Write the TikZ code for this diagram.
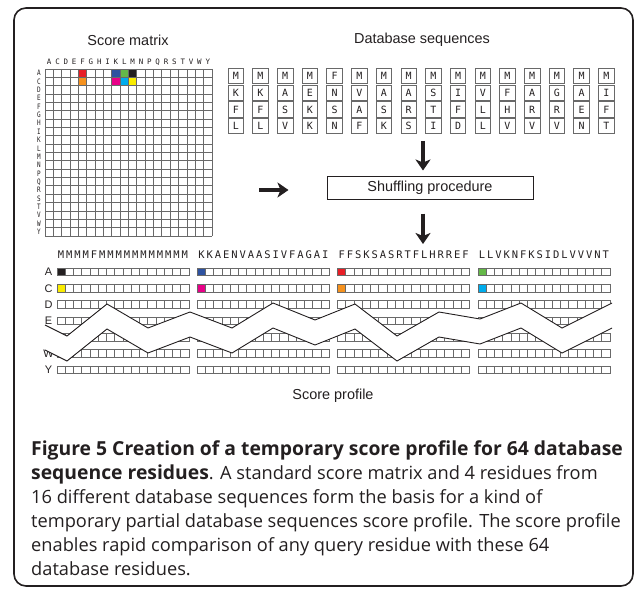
\documentclass[tikz,border=0pt]{standalone}
\usepackage{fontspec}
\setmainfont{Liberation Sans}
\newfontfamily\monofont{DejaVu Sans Mono}
\newfontfamily\capfont{Open Sans}
\usetikzlibrary{positioning,calc,arrows.meta}
% colours of the highlighted scores
\definecolor{scRed}{RGB}{232,30,38}
\definecolor{scOrange}{RGB}{246,146,30}
\definecolor{scBlue}{RGB}{46,82,160}
\definecolor{scMagenta}{RGB}{232,0,136}
\definecolor{scGreen}{RGB}{100,184,72}
\definecolor{scCyan}{RGB}{0,172,236}
\definecolor{scBlack}{RGB}{35,31,32}
\definecolor{scYellow}{RGB}{250,236,0}
\definecolor{lineGray}{RGB}{105,105,105}
\definecolor{textGray}{RGB}{35,31,32}
\newcommand{\capbold}[1]{{\fontsize{19.4}{24}\selectfont\bfseries #1}}
\tikzset{
  headline/.style={font=\fontsize{14.5}{16}\selectfont, text=textGray, inner sep=0pt},
  tinylabel/.style={font=\monofont\fontsize{7.5}{7.5}\selectfont, text=textGray, inner sep=0pt},
  gridline/.style={draw=lineGray, line width=0.9bp},
  dbletter/.style={draw=lineGray, line width=0.8bp, minimum width=15.5bp, minimum height=15.5bp,
    inner sep=0pt, font=\monofont\fontsize{10}{10}\selectfont, text=textGray},
  seqletter/.style={font=\monofont\fontsize{10.5}{10.5}\selectfont, text=textGray, inner sep=0pt},
  rowlabel/.style={font=\fontsize{11}{11}\selectfont, text=textGray, inner sep=0pt},
  profcell/.style={draw=lineGray, line width=0.8bp},
  thickarrow/.style={-{Stealth[length=11bp,width=15bp,inset=3bp]}, line width=4bp, textGray},
  capline/.style={font=\capfont\fontsize{18.3}{24}\selectfont, text=textGray, inner sep=0pt, anchor=base west},
}
\begin{document}
\begin{tikzpicture}[x=1bp,y=-1bp]
    \useasboundingbox (0,0) rectangle (637,589);
    % outer frame
    \draw[rounded corners=12bp, line width=1.6bp, textGray] (14,8) rectangle (633,586);

    % Score matrix: highlighted cells first, then the grid
    \node[headline] (smtitle) at (128,40) {Score matrix};
    \foreach \c/\r/\col in {4/0/scRed, 8/0/scBlue, 9/0/scGreen, 10/0/scBlack,
                            4/1/scOrange, 8/1/scMagenta, 9/1/scCyan, 10/1/scYellow}{
        \fill[\col] ({45+\c*8.35},{69+\r*8.35}) rectangle ++(8.35,8.35);
    }
    \foreach \i in {0,...,20}{
        \draw[gridline] ({45+\i*8.35},69) -- ++(0,167);
        \draw[gridline] (45,{69+\i*8.35}) -- ++(167,0);
    }
    \foreach \aa[count=\k from 0] in {A,C,D,E,F,G,H,I,K,L,M,N,P,Q,R,S,T,V,W,Y}{
        \node[tinylabel] (mcol\aa) at ({45+(\k+0.5)*8.35},62) {\aa};
        \node[tinylabel, xscale=.8] (mrow\aa) at (39,{69+(\k+0.5)*8.35}) {\aa};
    }

    % Database sequences, four residues each
    \node[headline] (dbtitle) at (422,40) {Database sequences};
    \foreach \p/\q/\r/\s[count=\c from 0] in {M/K/F/L, M/K/F/L, M/A/S/V, M/E/K/K, F/N/S/N, M/V/A/F,
        M/A/S/K, M/A/R/S, M/S/T/I, M/I/F/D, M/V/L/L, M/F/H/V, M/A/R/V, M/G/R/V, M/A/E/N, M/I/F/T}{
        \foreach \ch[count=\k from 0] in {\p,\q,\r,\s}{
            \node[dbletter] (db\c-\k) at ({235.75+\c*24.7},{76+\k*16.7}) {\ch};
        }
    }

    % Shuffling step and arrows
    \node[draw=textGray, line width=1bp, minimum width=206bp, minimum height=22bp, headline]
        (shuffle) at (430,188) {Shuffling procedure};
    \coordinate (dbfoot) at (423,141);
    \coordinate (proftop) at (423,244);
    \coordinate (mxright) at (259,190);
    \draw[thickarrow, shorten >=6bp] (dbfoot) -- (dbfoot |- shuffle.north);
    \draw[thickarrow, shorten <=14bp] (shuffle.south -| proftop) -- (proftop);
    \draw[thickarrow, shorten >=38bp] (mxright) -- (mxright -| shuffle.west);

    % Score profile: 4 groups of 16 residues
    \foreach \seq/\colA/\colC[count=\g from 0] in {
        {M,M,M,M,F,M,M,M,M,M,M,M,M,M,M,M}/scBlack/scYellow,
        {K,K,A,E,N,V,A,A,S,I,V,F,A,G,A,I}/scBlue/scMagenta,
        {F,F,S,K,S,A,S,R,T,F,L,H,R,R,E,F}/scRed/scOrange,
        {L,L,V,K,N,F,K,S,I,D,L,V,V,V,N,T}/scGreen/scCyan}{
        \pgfmathsetmacro{\xo}{57+140.3*\g}
        \fill[\colA] (\xo,268.2) rectangle ++(8.25,7.6);
        \fill[\colC] (\xo,284.5) rectangle ++(8.25,7.6);
        \foreach \ch[count=\i from 0] in \seq{
            \node[seqletter] (seq\g-\i) at ({\xo+(\i+0.5)*8.25},255) {\ch};
        }
        \foreach \k in {0,...,6}{
            \foreach \i in {0,...,15}{
                \draw[profcell] ({\xo+\i*8.25},{268.2+\k*16.3}) rectangle ++(8.25,7.6);
            }
        }
    }
    \foreach \aa/\k in {A/0, C/1, D/2, E/3, W/5, Y/6}{
        \node[rowlabel] (prow\aa) at (48.5,{272+\k*16.3}) {\aa};
    }

    % zigzag cut through the middle rows
    \fill[white] (45,325) -- (67,336) -- (107,304) -- (148,328) -- (190,312) -- (232,328) -- (273,303)
        -- (315,320) -- (355,304) -- (397,336) -- (439,312) -- (480,319) -- (521,303) -- (562,328) -- (612,303)
        -- (612,328) -- (562,353) -- (521,328) -- (480,344) -- (439,337) -- (397,361) -- (355,329) -- (315,345)
        -- (273,328) -- (232,353) -- (190,337) -- (148,353) -- (107,329) -- (67,361) -- (45,350) -- cycle;
    \foreach \dy in {0,25}{
        \draw[line width=0.9bp, textGray, yshift=-\dy bp] (45,325) -- (67,336) -- (107,304) -- (148,328)
            -- (190,312) -- (232,328) -- (273,303) -- (315,320) -- (355,304) -- (397,336) -- (439,312)
            -- (480,319) -- (521,303) -- (562,328) -- (612,303);
    }
    \node[headline] (proflabel) at (333,396) {Score profile};

    % caption
    \foreach \txt[count=\n from 0] in {
        {\capbold{Figure 5 Creation of a temporary score profile for 64 database}},
        {\capbold{sequence residues}. A standard score matrix and 4 residues from},
        {16 different database sequences form the basis for a kind of},
        {temporary partial database sequences score profile. The score profile},
        {enables rapid comparison of any query residue with these 64},
        {database residues.}}{
        \node[capline] (cap\n) at (31,{455+\n*24}) {\txt};
    }
\end{tikzpicture}
\end{document}
